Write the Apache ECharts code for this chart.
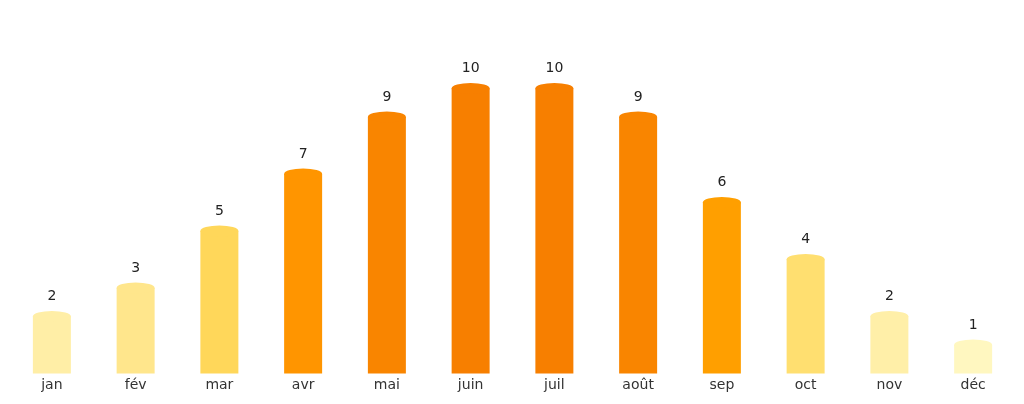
<!DOCTYPE html>
<html>
<head>
<meta charset="utf-8">
<script src="https://cdn.jsdelivr.net/npm/echarts@6/dist/echarts.min.js"></script>
<style>
html,body{margin:0;padding:0;background:#fff;}
#c{width:1024px;height:404px;}
</style>
</head>
<body>
<div id="c"></div>
<script>
var months = ['jan','fév','mar','avr','mai','juin','juil','août','sep','oct','nov','déc'];
var values = [2,3,5,7,9,10,10,9,6,4,2,1];
var palette = ['#FFEEA6','#FFE68C','#FFD75A','#FF9500','#F98500','#F77F00','#F77F00','#F98500','#FF9F00','#FFDF70','#FFEFA8','#FFF7C0'];

var chart = echarts.init(document.getElementById('c'), null, {renderer:'canvas'});
chart.setOption({
  animation: false,
  textStyle: {fontFamily: 'DejaVu Sans'},
  grid: {left: 10, right: 9, top: 31.5, bottom: 30.5},
  xAxis: {
    type: 'category',
    data: months,
    axisLine: {show: false},
    axisTick: {show: false},
    axisLabel: {color: '#333', fontSize: 14, margin: 5, fontFamily: 'DejaVu Sans'}
  },
  yAxis: {type: 'value', min: 0, max: 12, show: false, splitLine: {show: false}},
  series: [
    {
      type: 'bar',
      data: values,
      barWidth: 38,
      barGap: '-100%',
      itemStyle: {color: function(p){ return palette[p.dataIndex]; }},
      label: {show: true, position: 'top', distance: 13, color: '#222', fontSize: 14, fontFamily: 'DejaVu Sans'},
      z: 2
    },
    {
      type: 'pictorialBar',
      data: values,
      barWidth: 38,
      barGap: '-100%',
      symbol: 'circle',
      symbolSize: [38, 11],
      symbolPosition: 'end',
      symbolOffset: [0, '-50%'],
      itemStyle: {color: function(p){ return palette[p.dataIndex]; }},
      z: 3,
      silent: true
    }
  ]
});
</script>
</body>
</html>
